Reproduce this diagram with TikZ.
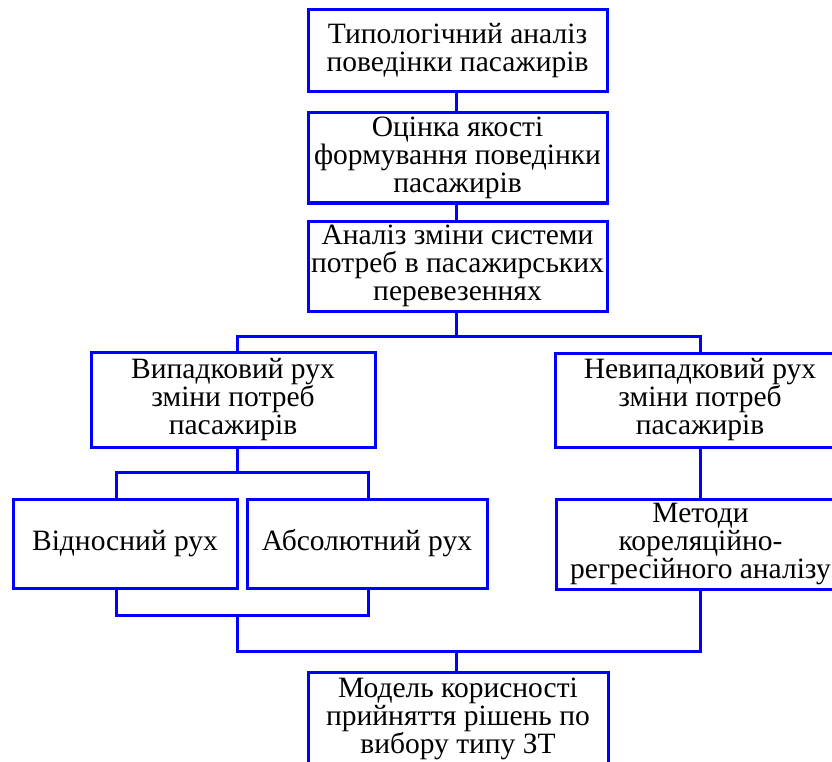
\documentclass[tikz,border=0pt]{standalone}
\usepackage{fontspec}
\setmainfont{Liberation Serif}
\begin{document}
\begin{tikzpicture}[x=1pt,y=-1pt,
  box/.style={draw=blue, line width=3pt, rectangle, inner sep=0pt, align=center,
    font=\fontsize{29.5}{28}\selectfont, text=black},
  conn/.style={draw=blue, line width=3pt}]
\useasboundingbox (0,0) rectangle (832,762);
\clip (0,0) rectangle (832,762);
\node[box, minimum width=299pt, minimum height=82pt] (b1) at (457.5,51) {Типологічний аналіз\\поведінки пасажирів};
\node[box, minimum width=299pt, minimum height=90pt] (b2) at (457.5,158) {Оцінка якості\\формування поведінки\\пасажирів};
\node[box, minimum width=299pt, minimum height=90pt] (b3) at (457.5,266) {Аналіз зміни системи\\потреб в пасажирських\\перевезеннях};
\node[box, minimum width=284pt, minimum height=95pt] (b4) at (233,399.5) {Випадковий рух\\зміни потреб\\пасажирів};
\node[box, minimum width=290pt, minimum height=94pt] (b5) at (700,400) {Невипадковий рух\\зміни потреб\\пасажирів};
\node[box, minimum width=224pt, minimum height=89pt] (b6) at (125,543.5) {Відносний рух};
\node[box, minimum width=240pt, minimum height=89pt] (b7) at (367,543.5) {Абсолютний рух};
\node[box, minimum width=289pt, minimum height=90pt] (b8) at (700.5,544) {Методи\\кореляційно-\\регресійного аналізу};
\node[box, minimum width=300pt, minimum height=94pt] (b9) at (458,719) {Модель корисності\\прийняття рішень по\\вибору типу ЗТ};
% junction coordinates
\coordinate (j1) at (456,336);
\coordinate (j2) at (237,472);
\coordinate (j3) at (237,615);
\coordinate (j4) at (456,651);
% connectors
\draw[conn] (b1.south -| j1) -- (b2.north -| j1);
\draw[conn] (b2.south -| j1) -- (b3.north -| j1);
\draw[conn] (b3.south -| j1) -- (j1);
\draw[conn] (b4.north -| j2) |- (j1) -| (b5.north -| 700,0);
\draw[conn] (b4.south -| j2) -- (j2);
\draw[conn] (b6.north -| 116,0) |- (j2) -| (b7.north -| 368,0);
\draw[conn] (b5.south -| 700,0) -- (b8.north -| 700,0);
\draw[conn] (b6.south -| 116,0) |- (j3) -| (b7.south -| 368,0);
\draw[conn] (j3) |- (j4) -| (b8.south -| 700,0);
\draw[conn] (j4) -- (b9.north -| j4);
\end{tikzpicture}
\end{document}
